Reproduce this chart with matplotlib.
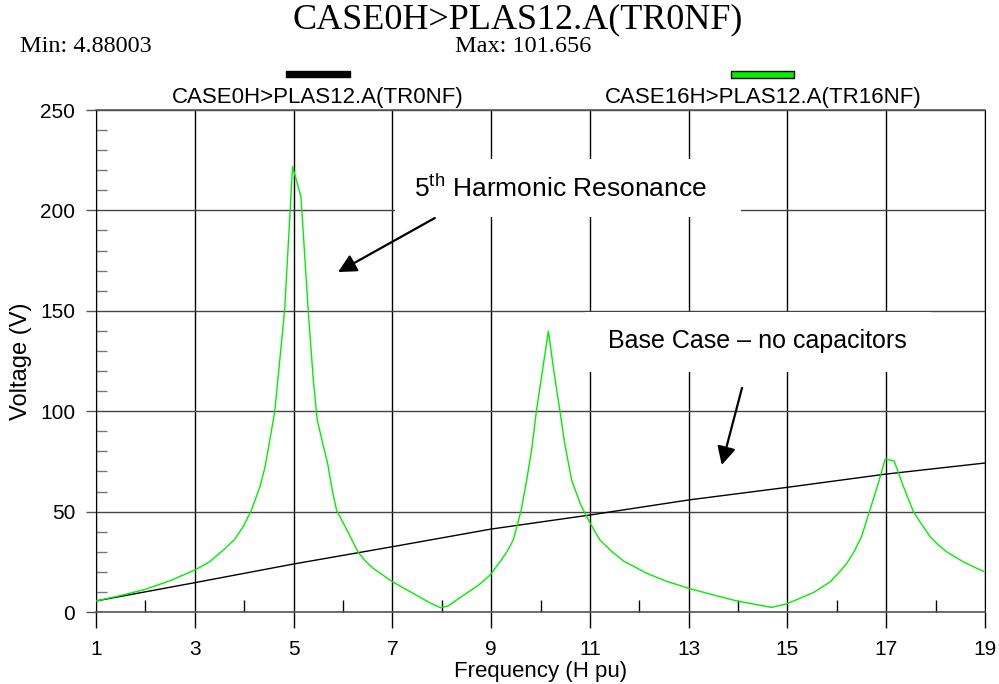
import matplotlib
matplotlib.use("Agg")
import matplotlib.pyplot as plt
from matplotlib.patches import Rectangle

plt.rcParams['font.family'] = ['Liberation Sans', 'DejaVu Sans']
plt.rcParams['mathtext.fontset'] = 'custom'
plt.rcParams['mathtext.rm'] = 'Liberation Sans'

# ---- data ----
base_x = [1, 3, 5, 7, 9, 11, 13, 15, 17, 19]
base_y = [5.5, 14.6, 23.9, 32.5, 41.3, 48.3, 55.8, 62.1, 68.7, 74.2]

cap_x = [1.0, 1.5, 2.0, 2.5, 3.0, 3.3, 3.58, 3.8, 3.98, 4.14, 4.32, 4.42, 4.52,
         4.62, 4.82, 4.98, 5.15, 5.30, 5.40, 5.48, 5.58, 5.69, 5.78, 5.87,
         6.08, 6.31, 6.45, 6.61, 7.0, 7.42, 7.76, 7.98, 8.13, 8.5, 8.75, 8.98,
         9.18, 9.32, 9.45, 9.61, 9.72, 9.82, 9.92, 10.16, 10.27, 10.39, 10.49,
         10.63, 10.82, 11.0, 11.2, 11.45, 11.68, 12.15, 12.55, 13.0, 13.5,
         13.97, 14.68, 14.98, 15.52, 15.87, 16.06, 16.2, 16.33, 16.5, 16.67,
         16.84, 16.98, 17.16, 17.35, 17.55, 17.68, 17.89, 18.05, 18.22, 18.56,
         18.77, 18.98]
cap_y = [5.5, 8.2, 11.3, 15.6, 20.9, 25.0, 30.9, 36.0, 42.5, 50.3, 62.4, 72.0, 85.7,
         100.0, 150.4, 221.8, 206.8, 149.0, 115.5, 95.6, 85.0, 74.0, 61.0, 50.8,
         40.8, 29.7, 25.5, 21.8, 15.1, 9.3, 4.6, 2.1, 3.0, 9.3, 13.5, 18.4,
         25.0, 30.0, 35.9, 50.8, 65.7, 80.7, 100.6, 139.9, 120.0, 100.6, 84.0,
         65.7, 53.0, 44.5, 35.9, 30.0, 25.4, 19.3, 15.3, 11.8, 8.5,
         5.5, 2.3, 4.0, 9.6, 15.1, 20.1, 24.2, 29.2, 37.5, 50.8,
         64.1, 76.2, 75.2, 62.4, 50.0, 45.0, 37.5, 33.5, 30.0, 25.0,
         22.5, 20.1]

x_major = [1, 3, 5, 7, 9, 11, 13, 15, 17, 19]
x_minor = [2, 4, 6, 8, 10, 12, 14, 16, 18]
y_major = [0, 50, 100, 150, 200, 250]
y_minor = [10, 20, 30, 40, 60, 70, 80, 90, 110, 120, 130, 140,
           160, 170, 180, 190, 210, 220, 230, 240]

title = "CASE0H>PLAS12.A(TR0NF)"
leg1 = "CASE0H>PLAS12.A(TR0NF)"
leg2 = "CASE16H>PLAS12.A(TR16NF)"

W, H = 999, 684
GREEN = '#00ee00'
fig = plt.figure(figsize=(W / 100, H / 100), dpi=100)
ax = fig.add_axes([96 / W, 72 / H, 889 / W, 502 / H])
ax.set_xlim(1, 19)
ax.set_ylim(0, 250)

# grid
for xv in x_major:
    ax.axvline(xv, color='black', lw=1.0, zorder=1)
for yv in y_major:
    ax.axhline(yv, color='#444444', lw=1.0, zorder=1)

for s in ['top', 'bottom']:
    ax.spines[s].set_color('#555555')
    ax.spines[s].set_linewidth(1.2)
ax.spines['left'].set_color('black')
ax.spines['right'].set_color('black')

ax.set_xticks(x_major)
ax.set_xticks(x_minor, minor=True)
ax.set_yticks(y_major)
ax.set_yticks(y_minor, minor=True)
ax.tick_params(axis='x', which='major', direction='out', length=11.5, width=1,
               color='black', labelsize=15, pad=9)
ax.tick_params(axis='x', which='minor', direction='in', length=8.5, width=1,
               color='black')
ax.tick_params(axis='y', which='major', direction='out', length=7, width=1,
               color='#555555', labelsize=15, pad=8)
ax.tick_params(axis='y', which='minor', direction='in', length=8, width=1,
               color='#777777')

ax.plot(base_x, base_y, color='black', lw=1.0, zorder=3)
ax.plot(cap_x, cap_y, color=GREEN, lw=1.0, zorder=4)

ax.set_xlabel("Frequency (H pu)", fontsize=16, labelpad=1)
ax.set_ylabel("Voltage (V)", fontsize=17, labelpad=6)

# white boxes with annotation text
ax.add_patch(Rectangle((7.05, 196.7), 7.0, 28.9, facecolor='white',
                       edgecolor='none', zorder=5))
ax.text(10.41, 211, r"5$^{\rm th}$ Harmonic Resonance", fontsize=19,
        ha='center', va='center', zorder=6)
ax.add_patch(Rectangle((10.9, 119.5), 7.0, 29.9, facecolor='white',
                       edgecolor='none', zorder=5))
ax.text(14.4, 135, "Base Case \u2013 no capacitors", fontsize=18,
        ha='center', va='center', zorder=6)

aprops = dict(arrowstyle='-|>,head_length=0.55,head_width=0.28',
              mutation_scale=20, color='black', lw=1.6, shrinkA=0, shrinkB=0)
ax.annotate("", xy=(5.9, 169.3), xytext=(7.86, 196.2), arrowprops=aprops,
            zorder=7)
ax.annotate("", xy=(13.67, 73.2), xytext=(14.08, 111.6), arrowprops=aprops,
            zorder=7)

# header texts
fig.text(518 / W, 1 - 20 / H, title, fontsize=26, family='Liberation Serif',
         ha='center', va='center')
fig.text(20 / W, 1 - 46 / H, "Min: 4.88003", fontsize=17.5,
         family='Liberation Serif', ha='left', va='center')
fig.text(455 / W, 1 - 46 / H, "Max: 101.656", fontsize=17.5,
         family='Liberation Serif', ha='left', va='center')

# legend
fig.patches.append(Rectangle((286 / W, 1 - 77 / H), 64 / W, 6 / H,
                             transform=fig.transFigure, facecolor='black',
                             edgecolor='black'))
fig.patches.append(Rectangle((731 / W, 1 - 78 / H), 63 / W, 7 / H,
                             transform=fig.transFigure, facecolor=GREEN,
                             edgecolor='black', lw=1))
fig.text(318 / W, 1 - 98 / H, leg1, fontsize=16, ha='center', va='center')
fig.text(763 / W, 1 - 98 / H, leg2, fontsize=16, ha='center', va='center')

fig.savefig("out.png", dpi=100)
